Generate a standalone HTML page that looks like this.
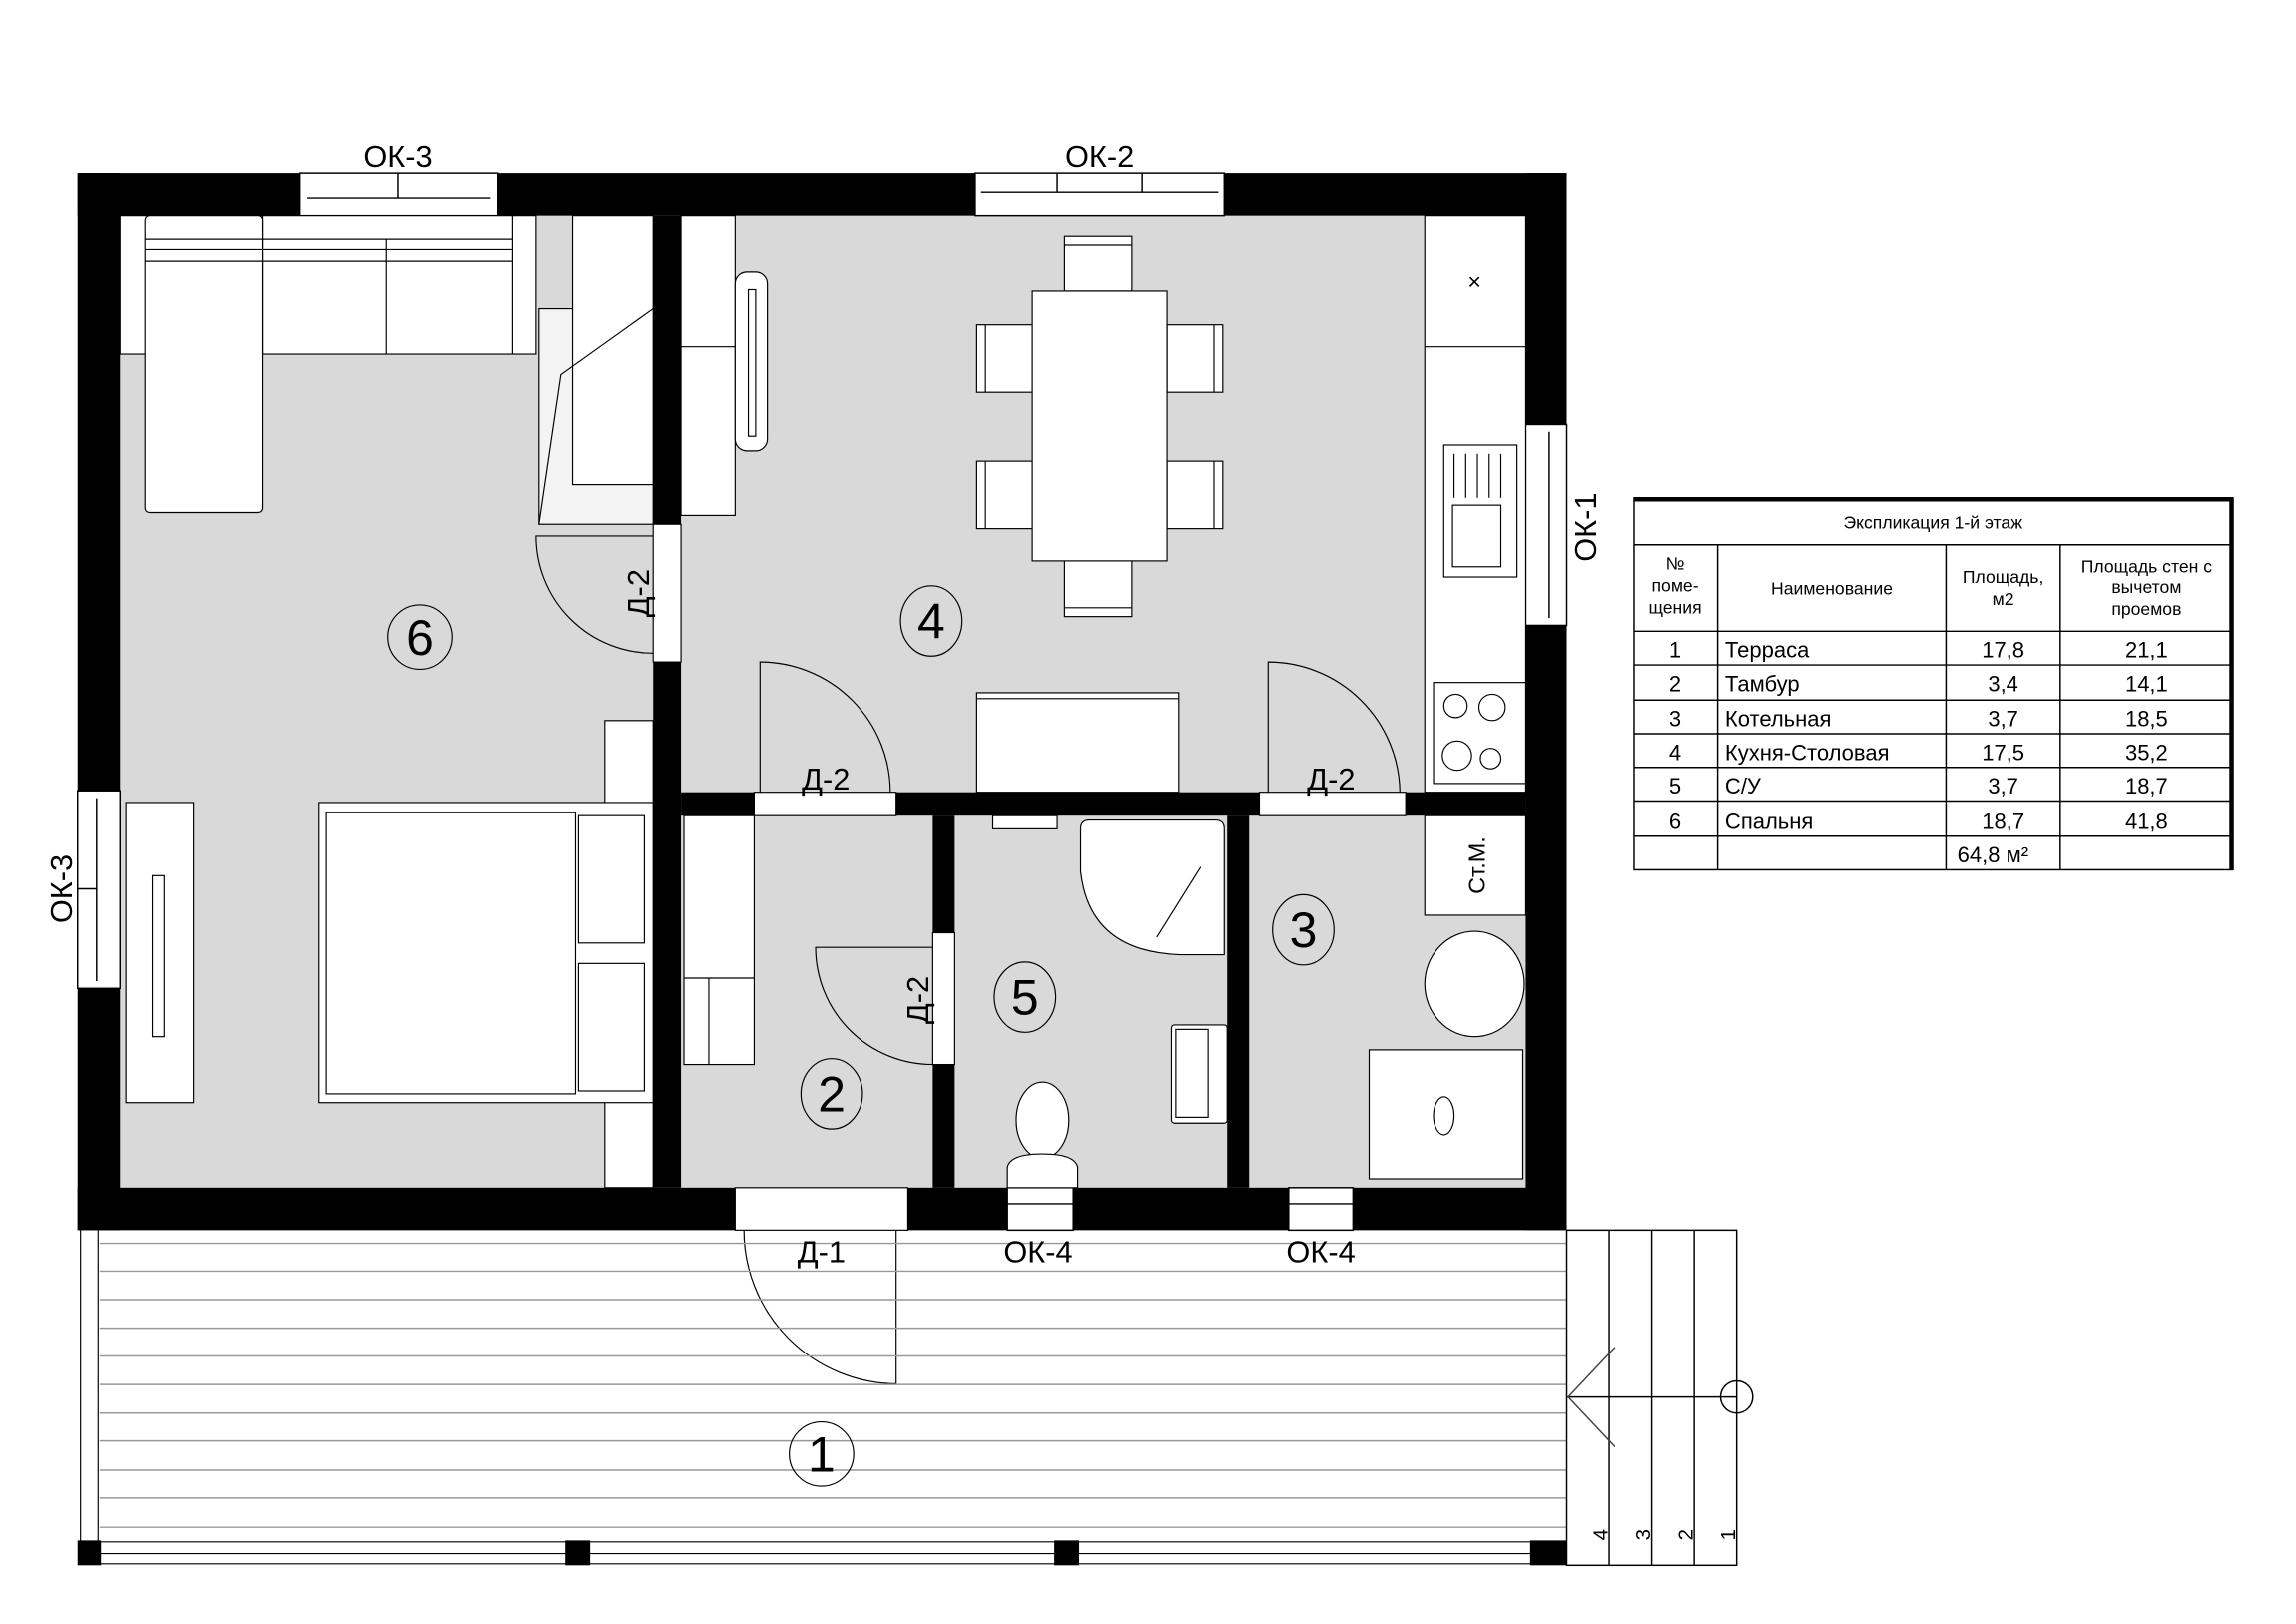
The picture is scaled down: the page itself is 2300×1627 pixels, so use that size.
<!DOCTYPE html>
<html><head><meta charset="utf-8"><style>
html,body{margin:0;padding:0;background:#fff}
svg{display:block}
text{font-family:"Liberation Sans",sans-serif;fill:#000}
</style></head><body>
<svg width="2300" height="1627" viewBox="0 0 1568 1109" preserveAspectRatio="none" xmlns="http://www.w3.org/2000/svg">
<rect x="0" y="0" width="1568" height="1109" fill="#fff"/>
<!-- floors -->
<rect x="82" y="147" width="960" height="664" fill="#d9d9d9"/>
<!-- outer walls -->
<rect x="53" y="118" width="1017" height="29" fill="#000"/>
<rect x="53" y="811" width="1017" height="29" fill="#000"/>
<rect x="53" y="118" width="29" height="722" fill="#000"/>
<rect x="1042" y="118" width="28" height="722" fill="#000"/>
<!-- partitions -->
<rect x="446" y="147" width="19" height="211" fill="#000"/>
<rect x="446" y="452" width="19" height="359" fill="#000"/>
<rect x="465" y="541" width="50" height="16" fill="#000"/>
<rect x="612" y="541" width="248" height="16" fill="#000"/>
<rect x="960" y="541" width="82" height="16" fill="#000"/>
<rect x="637" y="557" width="15" height="80" fill="#000"/>
<rect x="637" y="727" width="15" height="84" fill="#000"/>
<rect x="838" y="557" width="15" height="254" fill="#000"/>
<!-- door openings -->
<g fill="#fff" stroke="#000" stroke-width="0.8">
<rect x="446" y="358" width="19" height="94"/>
<rect x="515" y="541" width="97" height="16"/>
<rect x="860" y="541" width="100" height="16"/>
<rect x="637" y="637" width="15" height="90"/>
<rect x="502" y="811" width="118" height="29"/>
</g>
<!-- windows -->
<g fill="#fff" stroke="#000" stroke-width="1">
<rect x="205" y="118" width="135" height="29"/>
<line x1="210" y1="135" x2="335" y2="135"/><line x1="272" y1="118" x2="272" y2="135"/>
<rect x="666" y="118" width="170" height="29"/>
<line x1="670" y1="131" x2="832" y2="131"/><line x1="722" y1="118" x2="722" y2="131"/><line x1="780" y1="118" x2="780" y2="131"/>
<rect x="53" y="540" width="29" height="135"/>
<line x1="66" y1="545" x2="66" y2="670"/><line x1="53" y1="607" x2="66" y2="607"/>
<rect x="1042" y="290" width="28" height="137"/>
<line x1="1058" y1="295" x2="1058" y2="422"/>
<rect x="688" y="811" width="45" height="29"/><line x1="688" y1="822" x2="733" y2="822"/>
<rect x="880" y="811" width="44" height="29"/><line x1="880" y1="822" x2="924" y2="822"/>
</g>
<!-- door swings -->
<g fill="none" stroke="#000" stroke-width="0.8">
<path d="M446 366 L366 366 A80 80 0 0 0 446 446"/>
<path d="M519 541 L519 452 A89 89 0 0 1 608 541"/>
<path d="M866 541 L866 452 A90 90 0 0 1 956 541"/>
<path d="M637 647 L557 647 A80 80 0 0 0 637 727"/>
<path d="M612 840 L612 945 A105 105 0 0 1 508 840"/>
</g>
<!-- terrace -->
<g stroke="#999" stroke-width="1">
<line x1="68" y1="849" x2="1070" y2="849"/><line x1="68" y1="868" x2="1070" y2="868"/>
<line x1="68" y1="887.5" x2="1070" y2="887.5"/><line x1="68" y1="907" x2="1070" y2="907"/>
<line x1="68" y1="926" x2="1070" y2="926"/><line x1="68" y1="945.5" x2="1070" y2="945.5"/>
<line x1="68" y1="965" x2="1070" y2="965"/><line x1="68" y1="984" x2="1070" y2="984"/>
<line x1="68" y1="1004" x2="1070" y2="1004"/><line x1="68" y1="1023" x2="1070" y2="1023"/>
<line x1="68" y1="1043" x2="1070" y2="1043"/>
</g>
<g fill="none" stroke="#000" stroke-width="0.8">
<line x1="55" y1="840" x2="55" y2="1053"/><line x1="67" y1="840" x2="67" y2="1053"/>
<line x1="68" y1="1053" x2="1053" y2="1053"/><line x1="68" y1="1061" x2="1053" y2="1061"/><line x1="68" y1="1068" x2="1053" y2="1068"/>
</g>
<g fill="#000">
<rect x="53" y="1052" width="16" height="17"/><rect x="386" y="1052" width="17" height="17"/>
<rect x="720" y="1052" width="17" height="17"/><rect x="1045" y="1052" width="25" height="17"/>
</g>
<!-- steps -->
<g fill="none" stroke="#000" stroke-width="1">
<rect x="1070" y="840" width="116" height="229"/>
<line x1="1099" y1="840" x2="1099" y2="1069"/><line x1="1128" y1="840" x2="1128" y2="1069"/><line x1="1157" y1="840" x2="1157" y2="1069"/>
<line x1="1070" y1="954" x2="1186" y2="954"/>
<circle cx="1186" cy="954" r="11"/>
<polyline points="1103,920 1071,954 1103,988" stroke="#444"/>
</g>
<g font-size="14">
<text transform="translate(1098,1052) rotate(-90)">4</text>
<text transform="translate(1127,1052) rotate(-90)">3</text>
<text transform="translate(1156,1052) rotate(-90)">2</text>
<text transform="translate(1185,1052) rotate(-90)">1</text>
</g>
<!-- furniture -->
<g fill="#fff" stroke="#000" stroke-width="0.8">
<!-- sofa -->
<rect x="82" y="147" width="284" height="95"/>
<rect x="99" y="147" width="80" height="203" rx="3"/>
<line x1="99" y1="163" x2="350" y2="163"/><line x1="99" y1="170" x2="350" y2="170"/><line x1="99" y1="178" x2="350" y2="178"/>
<line x1="179" y1="147" x2="179" y2="242"/><line x1="264" y1="163" x2="264" y2="242"/><line x1="350" y1="147" x2="350" y2="242"/>
<!-- wardrobe -->
<rect x="368" y="211" width="78" height="147" fill="#f3f3f3"/>
<rect x="391" y="147" width="55" height="184" fill="#fff"/>
<polyline points="368,358 383,256 446,211" fill="none"/>
<!-- tv console room 4 -->
<rect x="465" y="147" width="37" height="205"/>
<line x1="465" y1="237" x2="502" y2="237"/>
<rect x="502" y="186" width="22" height="122" rx="8"/>
<rect x="511" y="198" width="5" height="100"/>
<!-- table & chairs -->
<rect x="727" y="161" width="46" height="38"/><line x1="727" y1="167" x2="773" y2="167"/>
<rect x="727" y="383" width="46" height="38"/><line x1="727" y1="415" x2="773" y2="415"/>
<rect x="667" y="222" width="38" height="46"/><line x1="673" y1="222" x2="673" y2="268"/>
<rect x="667" y="315" width="38" height="46"/><line x1="673" y1="315" x2="673" y2="361"/>
<rect x="797" y="222" width="38" height="46"/><line x1="829" y1="222" x2="829" y2="268"/>
<rect x="797" y="315" width="38" height="46"/><line x1="829" y1="315" x2="829" y2="361"/>
<rect x="705" y="199" width="92" height="184"/>
<!-- kitchen -->
<rect x="973" y="147" width="69" height="394"/>
<line x1="973" y1="237" x2="1042" y2="237"/>
<rect x="986" y="304" width="50" height="90"/>
<rect x="992" y="345" width="33" height="42"/>
<line x1="993" y1="310" x2="993" y2="340"/><line x1="1001" y1="310" x2="1001" y2="340"/><line x1="1009" y1="310" x2="1009" y2="340"/><line x1="1017" y1="310" x2="1017" y2="340"/><line x1="1025" y1="310" x2="1025" y2="340"/>
<rect x="979" y="466" width="63" height="69"/>
<circle cx="994" cy="482" r="8"/><circle cx="1019" cy="483" r="9"/><circle cx="995" cy="516" r="10"/><circle cx="1018" cy="518" r="7"/>
<rect x="667" y="473" width="138" height="68"/><line x1="667" y1="477" x2="805" y2="477"/>
<!-- bedroom -->
<rect x="413" y="492" width="33" height="319"/>
<rect x="218" y="548" width="228" height="205"/>
<rect x="223" y="555" width="170" height="192"/>
<rect x="395" y="557" width="45" height="87"/><rect x="395" y="658" width="45" height="87"/>
<rect x="86" y="548" width="46" height="205"/>
<rect x="104" y="598" width="8" height="110"/>
<!-- room 2 shelf -->
<rect x="467" y="557" width="48" height="170"/>
<line x1="467" y1="668" x2="515" y2="668"/><line x1="484" y1="668" x2="484" y2="727"/>
<!-- bathroom -->
<rect x="678" y="557" width="44" height="9"/>
<path d="M744 560 L830 560 Q836 560 836 566 L836 652 L806 652 Q744 650 738 595 L738 566 Q738 560 744 560 Z"/>
<line x1="820" y1="592" x2="790" y2="640"/>
<rect x="800" y="700" width="38" height="67" rx="2"/>
<rect x="803" y="703" width="22" height="60"/>
<ellipse cx="712" cy="765" rx="18" ry="26"/>
<path d="M688 797 Q690 788 712 788 Q734 788 736 797 L736 811 L688 811 Z"/>
<!-- boiler room -->
<rect x="973" y="557" width="69" height="68"/>
<ellipse cx="1007" cy="672" rx="34" ry="36"/>
<rect x="935" y="717" width="105" height="88"/>
<ellipse cx="986" cy="762" rx="7" ry="13"/>
</g>
<!-- room numbers -->
<g fill="none" stroke="#000" stroke-width="0.8">
<ellipse cx="287" cy="435" rx="22" ry="22"/>
<ellipse cx="636" cy="424" rx="21" ry="24"/>
<ellipse cx="568" cy="747" rx="21" ry="24"/>
<ellipse cx="700" cy="681" rx="21" ry="24"/>
<ellipse cx="890" cy="635" rx="21" ry="24"/>
<ellipse cx="561" cy="993" rx="22" ry="22"/>
</g>
<g font-size="34" text-anchor="middle">
<text x="287" y="447">6</text><text x="636" y="436">4</text><text x="568" y="759">2</text>
<text x="700" y="693">5</text><text x="890" y="647">3</text><text x="561" y="1005">1</text>
</g>
<!-- labels -->
<g font-size="21" text-anchor="middle">
<text x="272" y="114">ОК-3</text>
<text x="751" y="114">ОК-2</text>
<text x="564" y="539">Д-2</text>
<text x="909" y="539">Д-2</text>
<text x="561" y="862">Д-1</text>
<text x="709" y="862">ОК-4</text>
<text x="902" y="862">ОК-4</text>
<text transform="translate(1090,360) rotate(-90)">ОК-1</text>
<text transform="translate(49,607) rotate(-90)">ОК-3</text>
<text transform="translate(443,405) rotate(-90)">Д-2</text>
<text transform="translate(634,683) rotate(-90)">Д-2</text>
<text transform="translate(1014,591) rotate(-90)" font-size="16">Ст.М.</text>
<text x="1007" y="198" font-size="16">×</text>
</g>
<!-- table -->
<g fill="none" stroke="#000" stroke-width="1">
<rect x="1116" y="340" width="409" height="254"/>
<line x1="1116" y1="341" x2="1525" y2="341" stroke-width="3"/>
<line x1="1524" y1="340" x2="1524" y2="594" stroke-width="3"/>
<line x1="1116" y1="372" x2="1525" y2="372"/>
<line x1="1116" y1="431" x2="1525" y2="431"/>
<line x1="1116" y1="454" x2="1525" y2="454"/>
<line x1="1116" y1="478" x2="1525" y2="478"/>
<line x1="1116" y1="501" x2="1525" y2="501"/>
<line x1="1116" y1="524" x2="1525" y2="524"/>
<line x1="1116" y1="547" x2="1525" y2="547"/>
<line x1="1116" y1="571" x2="1525" y2="571"/>
<line x1="1173" y1="372" x2="1173" y2="594"/>
<line x1="1329" y1="372" x2="1329" y2="594"/>
<line x1="1407" y1="372" x2="1407" y2="594"/>
</g>
<g font-size="12" text-anchor="middle">
<text x="1320" y="361">Экспликация 1-й этаж</text>
<text x="1144" y="389">№</text><text x="1144" y="404">поме-</text><text x="1144" y="419">щения</text>
<text x="1251" y="406">Наименование</text>
<text x="1368" y="398">Площадь,</text><text x="1368" y="413">м2</text>
<text x="1466" y="391">Площадь стен с</text><text x="1466" y="405">вычетом</text><text x="1466" y="420">проемов</text>
</g>
<g font-size="15" text-anchor="middle">
<text x="1144" y="449">1</text><text x="1144" y="472">2</text><text x="1144" y="496">3</text><text x="1144" y="519">4</text><text x="1144" y="542">5</text><text x="1144" y="566">6</text>
<text x="1368" y="449">17,8</text><text x="1368" y="472">3,4</text><text x="1368" y="496">3,7</text><text x="1368" y="519">17,5</text><text x="1368" y="542">3,7</text><text x="1368" y="566">18,7</text>
<text x="1361" y="589">64,8 м²</text>
<text x="1466" y="449">21,1</text><text x="1466" y="472">14,1</text><text x="1466" y="496">18,5</text><text x="1466" y="519">35,2</text><text x="1466" y="542">18,7</text><text x="1466" y="566">41,8</text>
</g>
<g font-size="15">
<text x="1178" y="449">Терраса</text><text x="1178" y="472">Тамбур</text><text x="1178" y="496">Котельная</text>
<text x="1178" y="519">Кухня-Столовая</text><text x="1178" y="542">С/У</text><text x="1178" y="566">Спальня</text>
</g>
</svg>
</body></html>
